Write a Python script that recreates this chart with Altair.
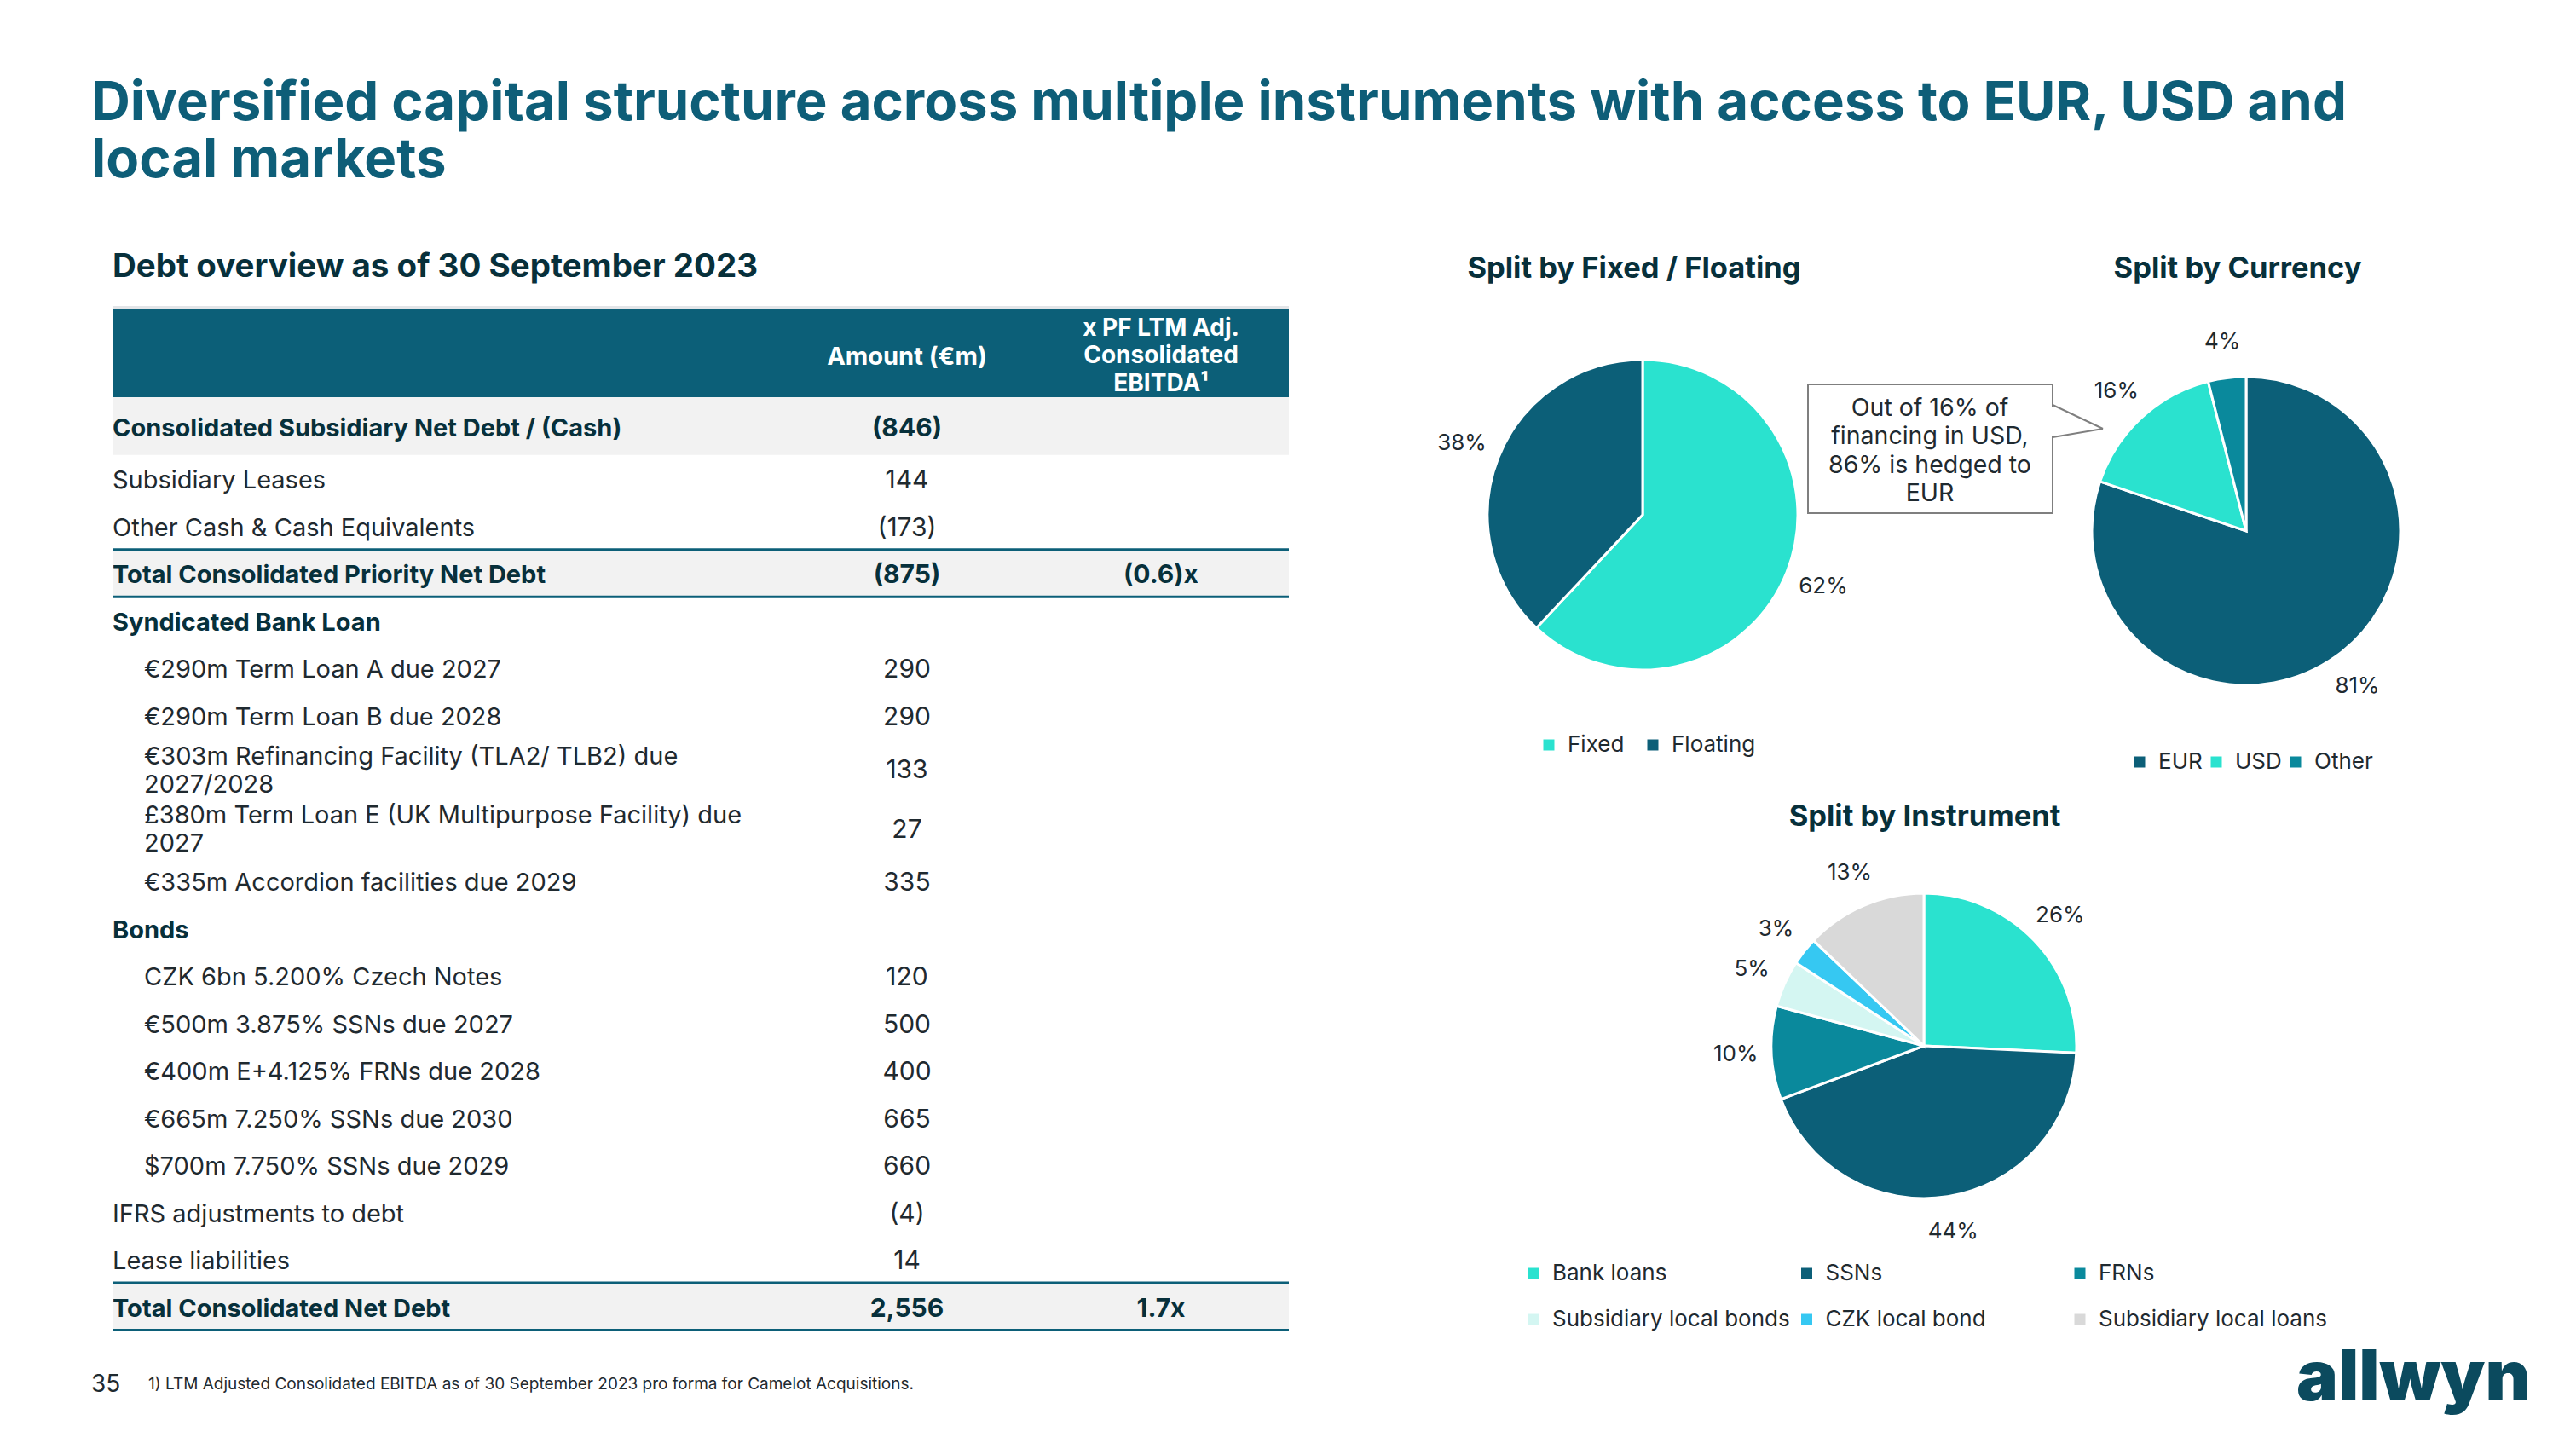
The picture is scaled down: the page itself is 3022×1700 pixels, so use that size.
import altair as alt
import pandas as pd

FONT = "Inter"
W, H = 3006, 1684
M = 8  # page margin; reference pixel = chart pixel + M


def px(v):
    return v - M


TEAL = "#0C5F78"
TURQ = "#2AE2CF"
MIDTEAL = "#0A899C"
LIGHTCYAN = "#D4F6F2"
SKY = "#36C8F2"
GREY = "#D9D9D9"
TXT = "#1F2A30"
BOLDTXT = "#07303B"
TITLE = "#0E5E78"

# ---------------- data ----------------
title_text = "Diversified capital structure across multiple instruments with access to EUR, USD and\nlocal markets"
table_title = "Debt overview as of 30 September 2023"
col_amount = "Amount (€m)"
col_multiple = "x PF LTM Adj.\nConsolidated\nEBITDA¹"

row_labels = [
    "Consolidated Subsidiary Net Debt / (Cash)",
    "Subsidiary Leases",
    "Other Cash & Cash Equivalents",
    "Total Consolidated Priority Net Debt",
    "Syndicated Bank Loan",
    "€290m Term Loan A due 2027",
    "€290m Term Loan B due 2028",
    "€303m Refinancing Facility (TLA2/ TLB2) due\n2027/2028",
    "£380m Term Loan E (UK Multipurpose Facility) due\n2027",
    "€335m Accordion facilities due 2029",
    "Bonds",
    "CZK 6bn 5.200% Czech Notes",
    "€500m 3.875% SSNs due 2027",
    "€400m E+4.125% FRNs due 2028",
    "€665m 7.250% SSNs due 2030",
    "$700m 7.750% SSNs due 2029",
    "IFRS adjustments to debt",
    "Lease liabilities",
    "Total Consolidated Net Debt",
]
row_amounts = ["(846)", "144", "(173)", "(875)", "", "290", "290", "133", "27", "335",
               "", "120", "500", "400", "665", "660", "(4)", "14", "2,556"]
row_multiples = ["", "", "", "(0.6)x", "", "", "", "", "", "", "", "", "", "", "", "", "", "", "1.7x"]
row_bold = [1, 0, 0, 1, 1, 0, 0, 0, 0, 0, 1, 0, 0, 0, 0, 0, 0, 0, 1]
row_indent = [0, 0, 0, 0, 0, 1, 1, 1, 1, 1, 0, 1, 1, 1, 1, 1, 0, 0, 0]
row_shaded = [1, 0, 0, 1, 0, 0, 0, 0, 0, 0, 0, 0, 0, 0, 0, 0, 0, 0, 1]
row_total = [0, 0, 0, 1, 0, 0, 0, 0, 0, 0, 0, 0, 0, 0, 0, 0, 0, 0, 1]

footnote_num = "35"
footnote = "1) LTM Adjusted Consolidated EBITDA as of 30 September 2023 pro forma for Camelot Acquisitions."

fix_title = "Split by Fixed / Floating"
fix_cats = ["Fixed", "Floating"]
fix_vals = [62, 38]

cur_title = "Split by Currency"
cur_cats = ["EUR", "USD", "Other"]
cur_vals = [81, 16, 4]
callout = "Out of 16% of\nfinancing in USD,\n86% is hedged to\nEUR"

ins_title = "Split by Instrument"
ins_cats = ["Bank loans", "SSNs", "FRNs", "Subsidiary local bonds", "CZK local bond", "Subsidiary local loans"]
ins_vals = [26, 44, 10, 5, 3, 13]

# ---------------- layout helpers ----------------
row_units = [1.22, 1, 1, 1, 1, 1, 1, 1.25, 1.25, 1, 1, 1, 1, 1, 1, 1, 1, 1, 1]
PITCH = 55.5
TABLE_TOP = 466
LINE_H = 33
tops, acc = [], 0.0
for u in row_units:
    tops.append(acc)
    acc += u
TOTAL_U = acc
bottoms = [t + u for t, u in zip(tops, row_units)]
mids = [(t + b) / 2 for t, b in zip(tops, bottoms)]
# multi-line labels: Vega anchors the first line, so shift up by half the extra lines
label_anchor = [m - (lbl.count("\n") * LINE_H / 2) / PITCH for m, lbl in zip(mids, row_labels)]

tbl = pd.DataFrame({
    "label": row_labels, "amount": row_amounts, "mult": row_multiples,
    "bold": row_bold, "indent": row_indent, "shaded": row_shaded, "total": row_total,
    "top": tops, "bottom": bottoms, "mid": mids, "lab_y": label_anchor,
})

yscale = alt.Scale(domain=[0, TOTAL_U], range=[px(TABLE_TOP), px(TABLE_TOP + TOTAL_U * PITCH)],
                   nice=False, zero=False)
TX0, TX1 = px(132), px(1512)


def note(text, x, y, size, color=TXT, weight="normal", align="left", baseline="alphabetic",
         line_height=None):
    kw = dict(text=text, fontSize=size, font=FONT, color=color, fontWeight=weight,
              align=align, baseline=baseline)
    if line_height:
        kw.update(lineBreak="\n", lineHeight=line_height)
        if baseline == "middle":
            y = y - text.count("\n") * line_height / 2
    return alt.Chart(alt.Data(values=[{}])).mark_text(**kw).encode(
        x=alt.value(px(x)), y=alt.value(px(y)))


def box(x0, x1, y0, y1, **kw):
    return alt.Chart(alt.Data(values=[{}])).mark_rect(**kw).encode(
        x=alt.value(px(x0)), x2=alt.value(px(x1)), y=alt.value(px(y0)), y2=alt.value(px(y1)))


def seg(x0, y0, x1, y1, color, width):
    return alt.Chart(alt.Data(values=[{}])).mark_rule(color=color, strokeWidth=width).encode(
        x=alt.value(px(x0)), x2=alt.value(px(x1)), y=alt.value(px(y0)), y2=alt.value(px(y1)))


layers = []

# titles
layers.append(note(title_text, 107, 141, 63.5, color=TITLE, weight="bold", line_height=67))
layers.append(note(table_title, 132, 325, 38.5, color=BOLDTXT, weight="bold"))

# table header
layers.append(box(132, 1512, 359, 362, color="#E3E5E8"))
layers.append(box(132, 1512, 362, 466, color=TEAL))
layers.append(box(132, 1512, 466, 468, color="#E3E5E8"))
layers.append(note(col_amount, 1064, 419, 29, color="white", weight="bold", align="center",
                   baseline="middle"))
layers.append(note(col_multiple, 1362, 418, 28, color="white", weight="bold", align="center",
                   baseline="middle", line_height=32.5))

base = alt.Chart(tbl)
layers.append(base.transform_filter("datum.shaded == 1").mark_rect(color="#F2F2F2").encode(
    y=alt.Y("top:Q", scale=yscale, axis=None), y2="bottom:Q",
    x=alt.value(TX0), x2=alt.value(TX1)))
layers.append(base.transform_filter("datum.total == 1").mark_rule(color=TEAL, strokeWidth=3).encode(
    y=alt.Y("top:Q", scale=yscale, axis=None), x=alt.value(TX0), x2=alt.value(TX1)))
layers.append(base.transform_filter("datum.total == 1").mark_rule(color=TEAL, strokeWidth=3).encode(
    y=alt.Y("bottom:Q", scale=yscale, axis=None), x=alt.value(TX0), x2=alt.value(TX1)))

xind = alt.Scale(domain=[0, 1], range=[px(132), px(169)], nice=False, zero=False)
for b, col in [(0, TXT), (1, BOLDTXT)]:
    fw = "bold" if b else "normal"
    layers.append(base.transform_filter(f"datum.bold == {b}").mark_text(
        align="left", baseline="middle", font=FONT, fontSize=29, color=col, dy=3,
        fontWeight=fw, lineBreak="\n", lineHeight=LINE_H).encode(
        x=alt.X("indent:Q", scale=xind, axis=None),
        y=alt.Y("lab_y:Q", scale=yscale, axis=None),
        text="label:N"))
    layers.append(base.transform_filter(f"datum.bold == {b}").mark_text(
        align="center", baseline="middle", font=FONT, fontSize=30, color=col, dy=3,
        fontWeight=fw).encode(
        x=alt.value(px(1064)), y=alt.Y("mid:Q", scale=yscale, axis=None), text="amount:N"))
    layers.append(base.transform_filter(f"datum.bold == {b}").mark_text(
        align="center", baseline="middle", font=FONT, fontSize=30, color=col, dy=3,
        fontWeight=fw).encode(
        x=alt.value(px(1362)), y=alt.Y("mid:Q", scale=yscale, axis=None), text="mult:N"))

# footer
layers.append(note(footnote_num, 107, 1633, 28, color=TXT))
layers.append(note(footnote, 174, 1630, 19, color=TXT))
layers.append(note("allwyn", 2694, 1643, 82, color="#0B4A5E", weight=900))


def pie(cats, vals, colors, cx, cy, r, lr, lx, ly, col_pad, columns=None, grid="each", row_pad=0):
    df = pd.DataFrame({"cat": cats, "val": vals, "ord": list(range(len(cats))),
                       "lbl": [f"{v}%" for v in vals]})
    leg = dict(orient="none", legendX=px(lx), legendY=px(ly), direction="horizontal", title=None,
               symbolType="square", symbolSize=169, symbolStrokeWidth=0, labelFont=FONT,
               labelFontSize=26, labelColor=TXT, labelOffset=9, padding=0, labelLimit=500,
               columnPadding=col_pad, rowPadding=row_pad, gridAlign=grid)
    if columns:
        leg["columns"] = columns
    b = alt.Chart(df)
    arc = b.mark_arc(outerRadius=r, stroke="white", strokeWidth=3).encode(
        theta=alt.Theta("val:Q", stack=True),
        order=alt.Order("ord:Q"),
        color=alt.Color("cat:N", sort=cats, scale=alt.Scale(domain=cats, range=colors),
                        legend=alt.Legend(**leg)),
        x=alt.value(px(cx)), y=alt.value(px(cy)))
    lab = b.mark_text(radius=lr, font=FONT, fontSize=26, color=TXT).encode(
        theta=alt.Theta("val:Q", stack=True),
        order=alt.Order("ord:Q"),
        detail="cat:N",
        text="lbl:N",
        x=alt.value(px(cx)), y=alt.value(px(cy)))
    return alt.layer(arc, lab)


layers.append(note(fix_title, 1917, 326, 34.5, color=BOLDTXT, weight="bold", align="center"))
layers.append(note(cur_title, 2625, 326, 34.5, color=BOLDTXT, weight="bold", align="center"))
layers.append(note(ins_title, 2258, 969, 34.5, color=BOLDTXT, weight="bold", align="center"))

layers.append(pie(fix_cats, fix_vals, [TURQ, TEAL], 1927, 604, 182, 228, 1804, 861, 20))
layers.append(pie(cur_cats, cur_vals, [TEAL, TURQ, MIDTEAL], 2635, 623, 181, 224, 2497, 881, 3))
layers.append(pie(ins_cats, ins_vals, [TURQ, TEAL, MIDTEAL, LIGHTCYAN, SKY, GREY],
                  2257, 1227, 179, 221, 1786, 1481, 6.5, columns=3, grid="all", row_pad=28))

# callout
layers.append(box(2121, 2408, 451, 602, fill="white", stroke="#7F7F7F", strokeWidth=2))
layers.append(seg(2408, 477, 2408, 511, "white", 4))
layers.append(seg(2408, 475, 2467, 503, "#7F7F7F", 2))
layers.append(seg(2467, 503, 2408, 513, "#7F7F7F", 2))
layers.append(note(callout, 2264, 529, 28.5, color=TXT, align="center", baseline="middle",
                   line_height=33.5))

chart = alt.layer(*layers).resolve_scale(color="independent", theta="independent").properties(
    width=W, height=H, padding=0, background="white",
    autosize=alt.AutoSizeParams(type="none"),
).configure_view(stroke=None)

chart.save("out.html", embed_options={"renderer": "svg", "actions": False})
